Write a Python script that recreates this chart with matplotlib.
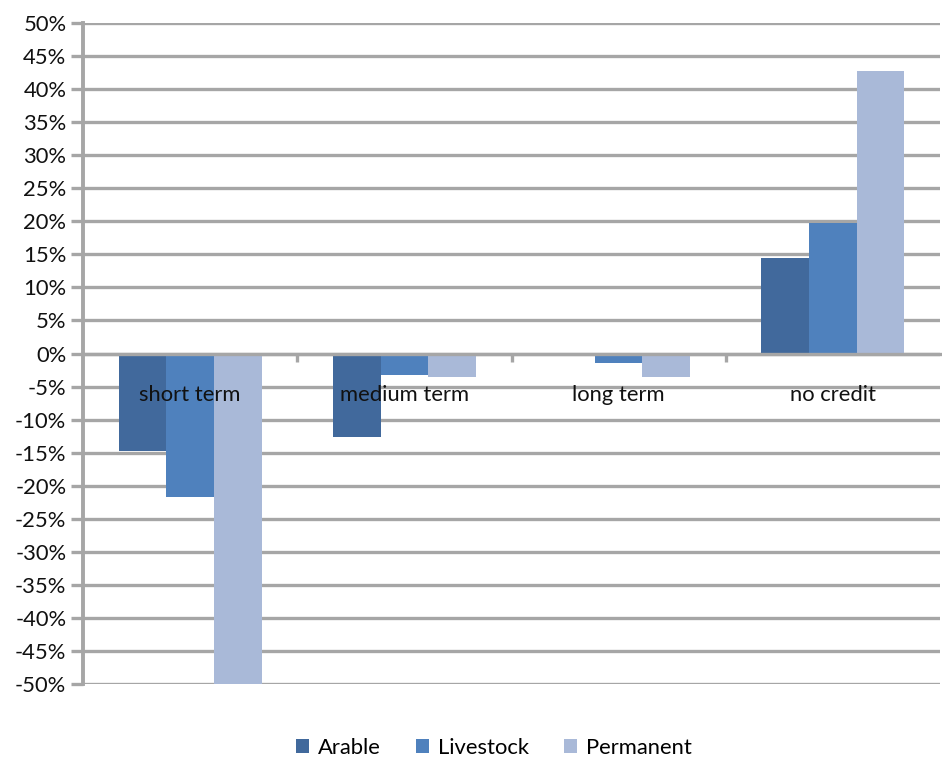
import numpy as np
import matplotlib.pyplot as plt
from matplotlib.ticker import FuncFormatter, FixedLocator

plt.rcParams['font.family'] = ['Lato', 'DejaVu Sans']

# Data (shares)
categories = ["short term", "medium term", "long term", "no credit"]
series = ["Arable", "Livestock", "Permanent"]
arable = [-0.148, -0.127, 0.0, 0.144]
livestock = [-0.217, -0.033, -0.015, 0.198]
permanent = [-0.50, -0.036, -0.036, 0.428]
values = [arable, livestock, permanent]

colors = ["#41699C", "#4F81BD", "#A9B9D8"]
grid_col = "#A6A6A6"
fs = 15.8

fig = plt.figure(figsize=(9.42, 7.58), dpi=100)
ax = fig.add_axes([83 / 942, 1 - 684 / 758, (940 - 83) / 942, (684 - 23) / 758])

x = np.arange(len(categories))
gap = 1.5
w = 1 / (len(series) + gap)
for i, (name, vals) in enumerate(zip(series, values)):
    offs = (i - (len(series) - 1) / 2) * w
    ax.bar(x + offs, vals, width=w, color=colors[i], label=name, zorder=3)

ax.set_xlim(-0.5, len(categories) - 0.5)
ax.set_ylim(-0.5, 0.5)
ax.set_yticks(np.arange(-0.5, 0.501, 0.05))
ax.yaxis.set_major_formatter(FuncFormatter(lambda v, p: f"{round(v * 100):d}%"))
ax.yaxis.grid(True, color=grid_col, linewidth=2.4, zorder=1)
ax.tick_params(axis='y', length=9, width=2.4, color=grid_col, labelsize=fs,
               labelcolor="#111111", pad=3)

# x axis drawn along zero
for s in ["top", "right"]:
    ax.spines[s].set_visible(False)
ax.spines["left"].set_color(grid_col)
ax.spines["left"].set_linewidth(2.8)
ax.spines["bottom"].set_position(("data", 0))
ax.spines["bottom"].set_color(grid_col)
ax.spines["bottom"].set_linewidth(2.4)
ax.spines["bottom"].set_zorder(4)

ax.xaxis.set_major_locator(FixedLocator(x[:-1] + 0.5))
ax.xaxis.set_minor_locator(FixedLocator(x))
ax.xaxis.set_major_formatter(FuncFormatter(lambda v, p: ""))
ax.set_xticks(x, categories, minor=True)
ax.tick_params(axis='x', which='major', length=6, width=2.4, color=grid_col)
ax.tick_params(axis='x', which='minor', length=0, pad=23, labelsize=fs,
               labelcolor="#111111")
ax.xaxis.set_zorder(5)

ax.legend(loc="center", bbox_to_anchor=(494 / 942, 1 - 748 / 758), bbox_transform=fig.transFigure,
          ncol=3, frameon=False, fontsize=fs, handlelength=0.6, handleheight=0.6,
          handletextpad=0.4, columnspacing=1.6)

fig.savefig("out.png", dpi=100)
